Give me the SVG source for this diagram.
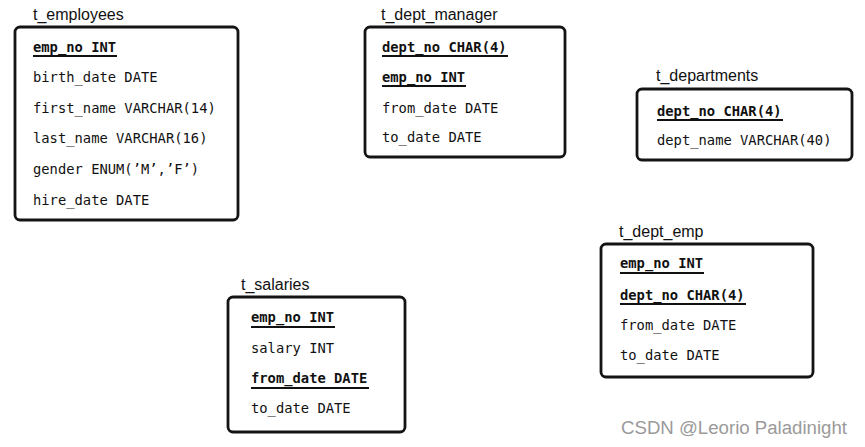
<svg xmlns="http://www.w3.org/2000/svg" width="865" height="447" viewBox="0 0 865 447">
<style>
.box{fill:#fff;stroke:#141414;stroke-width:2.8;stroke-linejoin:round}
.t{font-family:"Liberation Sans",Arial,sans-serif;font-size:16px;fill:#111}
.f{font-family:"DejaVu Sans Mono","Liberation Mono",monospace;font-size:13.8px;fill:#111}
.k{font-weight:bold}
.u{stroke:#111;stroke-width:2}
.wm{font-family:"Liberation Sans",Arial,sans-serif;font-size:18px;fill:#9a9a9a}
</style>
<rect width="865" height="447" fill="#fff"/>
<g id="t_employees">
<text class="t" x="33" y="20">t_employees</text>
<rect class="box" x="15" y="27" width="223" height="193" rx="5"/>
<text class="f k" x="33" y="52">emp_no INT</text>
<line class="u" x1="33" y1="56" x2="117" y2="56"/>
<text class="f" x="33" y="82">birth_date DATE</text>
<text class="f" x="33" y="113">first_name VARCHAR(14)</text>
<text class="f" x="33" y="143">last_name VARCHAR(16)</text>
<text class="f" x="33" y="174">gender ENUM(’M’,’F’)</text>
<text class="f" x="33" y="205">hire_date DATE</text>
</g>
<g id="t_dept_manager">
<text class="t" x="381" y="20">t_dept_manager</text>
<rect class="box" x="365" y="27" width="200" height="130" rx="5"/>
<text class="f k" x="382" y="52">dept_no CHAR(4)</text>
<line class="u" x1="382" y1="56" x2="508" y2="56"/>
<text class="f k" x="382" y="82">emp_no INT</text>
<line class="u" x1="382" y1="86" x2="466" y2="86"/>
<text class="f" x="382" y="113">from_date DATE</text>
<text class="f" x="382" y="142">to_date DATE</text>
</g>
<g id="t_departments">
<text class="t" x="656" y="81">t_departments</text>
<rect class="box" x="637" y="89" width="215" height="71" rx="5"/>
<text class="f k" x="657" y="116">dept_no CHAR(4)</text>
<line class="u" x1="657" y1="120" x2="783" y2="120"/>
<text class="f" x="657" y="145">dept_name VARCHAR(40)</text>
</g>
<g id="t_salaries">
<text class="t" x="241" y="290">t_salaries</text>
<rect class="box" x="228" y="297" width="177" height="135" rx="5"/>
<text class="f k" x="251" y="322">emp_no INT</text>
<line class="u" x1="251" y1="327" x2="335" y2="327"/>
<text class="f" x="251" y="353">salary INT</text>
<text class="f k" x="251" y="383">from_date DATE</text>
<line class="u" x1="251" y1="388" x2="369" y2="388"/>
<text class="f" x="251" y="413">to_date DATE</text>
</g>
<g id="t_dept_emp">
<text class="t" x="619" y="237">t_dept_emp</text>
<rect class="box" x="601" y="244" width="212" height="133" rx="5"/>
<text class="f k" x="620" y="268">emp_no INT</text>
<line class="u" x1="620" y1="273" x2="704" y2="273"/>
<text class="f k" x="620" y="300">dept_no CHAR(4)</text>
<line class="u" x1="620" y1="304" x2="746" y2="304"/>
<text class="f" x="620" y="330">from_date DATE</text>
<text class="f" x="620" y="360">to_date DATE</text>
</g>
<g id="connectors"></g>
<text class="wm" x="621" y="434" textLength="226" lengthAdjust="spacingAndGlyphs">CSDN @Leorio Paladinight</text>
</svg>
